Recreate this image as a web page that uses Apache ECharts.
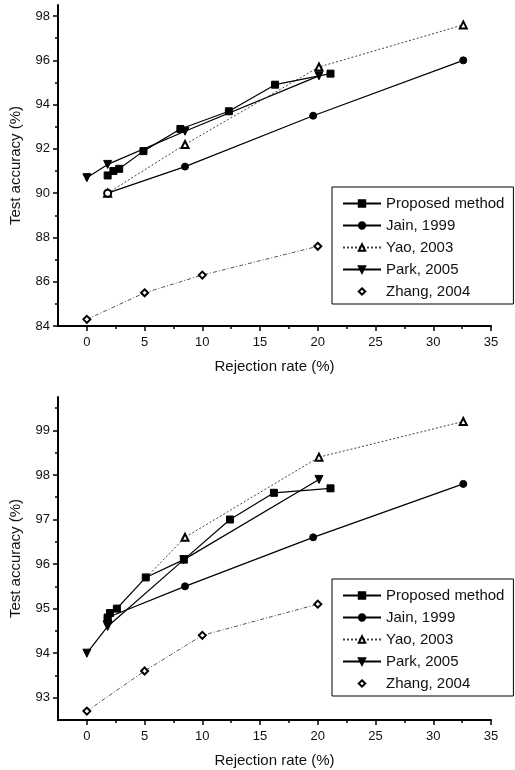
<!DOCTYPE html>
<html>
<head>
<meta charset="utf-8">
<script src="https://cdn.jsdelivr.net/npm/echarts@6/dist/echarts.min.js"></script>
<style>
  html, body { margin: 0; padding: 0; background: #fff; }
  #chart { width: 515px; height: 770px; }
</style>
</head>
<body>
<div id="chart"></div>
<script>
// names in legend order
const seriesNames = ['Proposed method', 'Jain, 1999', 'Yao, 2003', 'Park, 2005', 'Zhang, 2004']

// upper panel: [rejection rate, test accuracy]
const topProposed = [[1.8, 90.8], [2.3, 91.0], [2.8, 91.1], [4.9, 91.9], [8.1, 92.9], [12.3, 93.7], [16.3, 94.9], [21.1, 95.4]]
const topJain = [[1.8, 90.0], [8.5, 91.2], [19.6, 93.5], [32.6, 96.0]]
const topYao = [[1.8, 90.0], [8.5, 92.2], [20.1, 95.7], [32.6, 97.6]]
const topPark = [[0, 90.7], [1.8, 91.3], [8.5, 92.8], [20.1, 95.3]]
const topZhang = [[0, 84.3], [5, 85.5], [10, 86.3], [20, 87.6]]

// lower panel
const botProposed = [[1.8, 94.8], [2.0, 94.9], [2.6, 95.0], [5.1, 95.7], [8.4, 96.1], [12.4, 97.0], [16.2, 97.6], [21.1, 97.7]]
const botJain = [[1.8, 94.8], [8.5, 95.5], [19.6, 96.6], [32.6, 97.8]]
const botYao = [[1.8, 94.8], [8.5, 96.6], [20.1, 98.4], [32.6, 99.2]]
const botPark = [[0, 94.0], [1.8, 94.6], [8.4, 96.1], [20.1, 97.9]]
const botZhang = [[0, 92.7], [5, 93.6], [10, 94.4], [20, 95.1]]

// ticks
const xMajor = [0, 5, 10, 15, 20, 25, 30, 35]
const xMinor = [2.5, 7.5, 12.5, 17.5, 22.5, 27.5, 32.5]
const topYMajor = [84, 86, 88, 90, 92, 94, 96, 98]
const topYMinor = [85, 87, 89, 91, 93, 95, 97]
const botYMajor = [93, 94, 95, 96, 97, 98, 99]
const botYMinor = [93.5, 94.5, 95.5, 96.5, 97.5, 98.5, 99.5]

const font = 'Liberation Sans'
const ink = '#111'

const chart = echarts.init(document.getElementById('chart'))

const grids = [
  { left: 55, top: 5, width: 436, height: 321 },
  { left: 55, top: 397, width: 436, height: 323 }
]

const mainX = (gridIndex) => ({
  type: 'value', gridIndex, position: 'bottom', min: -2.5, max: 35,
  name: 'Rejection rate (%)', nameLocation: 'middle', nameGap: 33,
  nameTextStyle: { fontFamily: font, fontSize: 15, color: ink },
  axisLine: { show: true, onZero: false, lineStyle: { color: '#000', width: 2 } },
  axisTick: { show: true, inside: false, length: 5, customValues: xMajor, lineStyle: { color: '#000', width: 1.5 } },
  axisLabel: { customValues: xMajor, margin: 10, fontFamily: font, fontSize: 13, color: ink },
  splitLine: { show: false }
})
const minorX = (gridIndex) => ({
  type: 'value', gridIndex, position: 'bottom', min: -2.5, max: 35,
  axisLine: { show: false, onZero: false },
  axisTick: { show: true, inside: false, length: 3, customValues: xMinor, lineStyle: { color: '#000', width: 1.5 } },
  axisLabel: { show: false },
  splitLine: { show: false }
})
const mainY = (gridIndex, min, max, ticks) => ({
  type: 'value', gridIndex, position: 'left', min, max,
  name: 'Test accuracy (%)', nameLocation: 'middle', nameGap: 35,
  nameTextStyle: { fontFamily: font, fontSize: 15, color: ink },
  axisLine: { show: true, onZero: false, lineStyle: { color: '#000', width: 2 } },
  axisTick: { show: true, inside: false, length: 5, customValues: ticks, lineStyle: { color: '#000', width: 1.5 } },
  axisLabel: { customValues: ticks, margin: 8, fontFamily: font, fontSize: 13, color: ink },
  splitLine: { show: false }
})
const minorY = (gridIndex, min, max, ticks) => ({
  type: 'value', gridIndex, position: 'left', min, max,
  axisLine: { show: false, onZero: false },
  axisTick: { show: true, inside: false, length: 3, customValues: ticks, lineStyle: { color: '#000', width: 1.5 } },
  axisLabel: { show: false },
  splitLine: { show: false }
})

// one style per method
const styles = [
  { symbol: 'rect', symbolSize: 7, line: { color: '#000', width: 1.2, type: 'solid' } },
  { symbol: 'circle', symbolSize: 7, line: { color: '#000', width: 1.2, type: 'solid' } },
  { symbol: 'emptyTriangle', symbolSize: 7, line: { color: '#444', width: 1, type: [2, 2] } },
  { symbol: 'triangle', symbolSize: 8, symbolRotate: 180, line: { color: '#000', width: 1.2, type: 'solid' } },
  { symbol: 'emptyDiamond', symbolSize: 7, line: { color: '#555', width: 1, type: [4, 2, 1, 2] } }
]

const makeSeries = (panel, list) => list.map((data, i) => {
  const s = styles[i]
  return {
    name: seriesNames[i],
    type: 'line',
    xAxisIndex: panel * 2,
    yAxisIndex: panel * 2,
    data,
    symbol: s.symbol,
    symbolSize: s.symbolSize,
    symbolRotate: s.symbolRotate || 0,
    showAllSymbol: true,
    z: 10 - i,
    itemStyle: { color: '#000', borderColor: '#000', borderWidth: 1 },
    lineStyle: s.line,
    emphasis: { disabled: true }
  }
})

const topSeries = makeSeries(0, [topProposed, topJain, topYao, topPark, topZhang])
// first Jain point sits under the open Yao marker
topSeries[1].data = topJain.map((p, i) => i === 0 ? { value: p, symbol: 'emptyCircle' } : p)
const botSeries = makeSeries(1, [botProposed, botJain, botYao, botPark, botZhang])

const makeLegend = (top) => ({
  left: 332, top,
  orient: 'vertical',
  padding: [9, 9, 5, 10],
  itemWidth: 38, itemHeight: 8, itemGap: 7,
  borderColor: '#000', borderWidth: 1,
  selectedMode: false,
  textStyle: { fontFamily: font, fontSize: 15, color: ink, lineHeight: 14 },
  data: seriesNames.map((name, i) => i === 4 ? { name, lineStyle: { opacity: 0 } } : { name })
})

chart.setOption({
  animation: false,
  backgroundColor: '#fff',
  grid: grids,
  xAxis: [mainX(0), minorX(0), mainX(1), minorX(1)],
  yAxis: [
    mainY(0, 84, 98.5, topYMajor), minorY(0, 84, 98.5, topYMinor),
    mainY(1, 92.5, 99.75, botYMajor), minorY(1, 92.5, 99.75, botYMinor)
  ],
  legend: [makeLegend(187), makeLegend(579)],
  series: [...topSeries, ...botSeries]
})
</script>
</body>
</html>
